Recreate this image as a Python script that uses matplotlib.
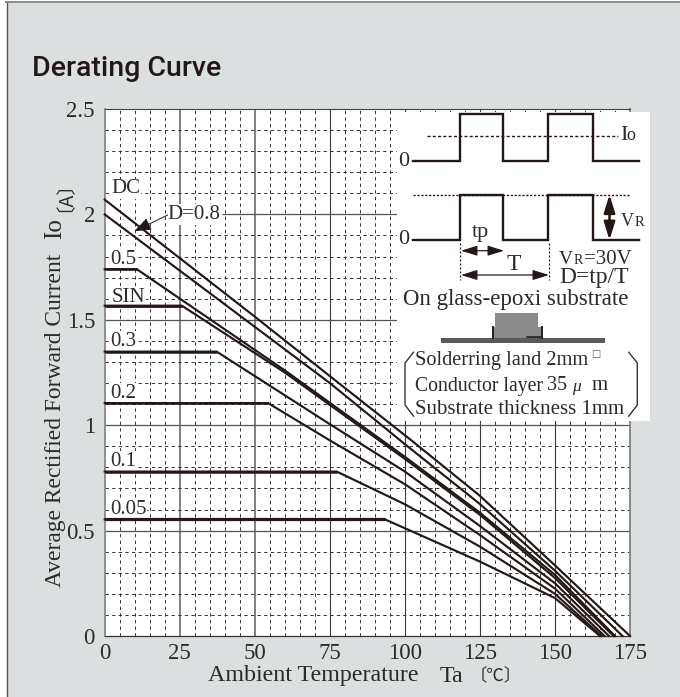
import matplotlib
matplotlib.use("Agg")
import matplotlib.pyplot as plt
from matplotlib.patches import Rectangle, FancyArrowPatch, PathPatch
from matplotlib.ticker import MultipleLocator
from matplotlib.path import Path

W, H = 680, 697
SERIF = ['Liberation Serif', 'DejaVu Serif']
CJK = ['Noto Sans CJK JP', 'DejaVu Sans']
BG = '#dcdfdf'
INK = '#231815'
TXT = '#2b2b2b'

# ---- chart data ----
ta_dc = [0, 50, 75, 102, 125, 150, 175]
io_dc = [2.07, 1.515, 1.233, 0.93, 0.665, 0.335, 0]
ta_08 = [0, 75, 100, 125, 150, 172.5]
io_08 = [2.0, 1.2, 0.91, 0.626, 0.31, 0]
ta_05 = [0, 10.7, 60, 100, 125, 150, 170]
io_05 = [1.74, 1.74, 1.26, 0.85, 0.585, 0.29, 0]
ta_sin = [0, 25.7, 60, 100, 125, 150, 169.5]
io_sin = [1.567, 1.567, 1.25, 0.84, 0.575, 0.275, 0]
ta_03 = [0, 37.3, 75, 100, 125, 150, 168]
io_03 = [1.349, 1.349, 1.005, 0.78, 0.522, 0.25, 0]
ta_02 = [0, 54.4, 75, 100, 125, 150, 166.5]
io_02 = [1.105, 1.105, 0.928, 0.72, 0.479, 0.225, 0]
ta_01 = [0, 77.3, 100, 125, 150, 165.5]
io_01 = [0.78, 0.78, 0.625, 0.424, 0.2, 0]
ta_005 = [0, 93.4, 125, 150, 165]
io_005 = [0.553, 0.553, 0.353, 0.18, 0]

curve_labels = ['DC', 'D=0.8', '0.5', 'SIN', '0.3', '0.2', '0.1', '0.05']
label_ta = [2.3, 21, 1.8, 2.2, 1.8, 1.8, 1.8, 1.8]
label_io = [2.121, 1.999, 1.784, 1.608, 1.399, 1.150, 0.829, 0.599]

x_ticks = [0, 25, 50, 75, 100, 125, 150, 175]
y_ticks = [0, 0.5, 1, 1.5, 2, 2.5]
y_tick_labels = ['0', '0.5', '1', '1.5', '2', '2.5']

fig = plt.figure(figsize=(W / 100, H / 100), dpi=100, facecolor='white')

# panel background with top and left rule
back = fig.add_axes([0, 0, 1, 1], zorder=0)
back.set_xlim(0, W); back.set_ylim(H, 0); back.axis('off')
back.add_patch(Rectangle((7, 2.5), W, H, fc=BG, ec='none'))
back.plot([7, 7], [2, H], color='#555555', lw=1.0)
back.plot([6, W], [2, 2], color='#8a8a8a', lw=1.4)
back.text(32, 68, 'Derating Curve', family=['Roboto', 'DejaVu Sans'], weight='medium',
          fontsize=20.5, color=INK, va='center', ha='left')

ax = fig.add_axes([104.7 / W, 1 - 636 / H, (630 - 104.7) / W, (636 - 109) / H], zorder=1)
ax.set_facecolor('white')
ax.set_xlim(0, 175); ax.set_ylim(0, 2.5)
ax.set_xticks(x_ticks)
ax.set_yticks(y_ticks)
ax.set_yticklabels(y_tick_labels)
ax.xaxis.set_minor_locator(MultipleLocator(5))
ax.yaxis.set_minor_locator(MultipleLocator(0.1))
ax.tick_params(which='both', length=0)
ax.tick_params(axis='x', pad=5)
ax.tick_params(axis='y', pad=7)
for tl in ax.get_xticklabels() + ax.get_yticklabels():
    tl.set_family(SERIF); tl.set_fontsize(16.5); tl.set_color(TXT)
ax.grid(False)
ax.grid(which='minor', color='#333333', lw=0.7, ls=(0, (3.4, 3.4)), zorder=1)
for sp, c, lw in [('left', '#808080', 1.2), ('right', '#808080', 1.3), ('top', '#444444', 0.8), ('bottom', '#333333', 0.9)]:
    ax.spines[sp].set_color(c); ax.spines[sp].set_linewidth(lw)

for xv in x_ticks[1:-1]:
    gray = xv in (25, 50)
    ax.axvline(xv, color='#808080' if gray else '#3a3a3a', lw=1.4 if gray else 0.8, zorder=1.2)
for yv in y_ticks[1:-1]:
    ax.hlines(yv, 39 if yv == 2 else 0, 175, color='#555555', lw=0.9, zorder=1.2)

curves = [(ta_dc, io_dc), (ta_08, io_08), (ta_05, io_05), (ta_sin, io_sin),
          (ta_03, io_03), (ta_02, io_02), (ta_01, io_01), (ta_005, io_005)]
widths = [1.55] * 8
flat_widths = [0, 0, 1.8, 2.0, 1.8, 1.8, 1.8, 2.3]
for (tx, iy), lw, fw in zip(curves, widths, flat_widths):
    ax.plot(tx, iy, color=INK, lw=lw, zorder=3, solid_joinstyle='miter', clip_on=False)
    if fw:
        ax.plot(tx[:2], iy[:2], color=INK, lw=fw, zorder=3.1, solid_capstyle='butt', clip_on=False)

for s, tx, iy in zip(curve_labels, label_ta, label_io):
    ax.text(tx, iy, s, family=SERIF, fontsize=15, color=TXT, va='center', ha='left',
            zorder=2, bbox=dict(fc='white', ec='none', pad=0.4))

ax.annotate('', xy=(9.8, 1.92), xytext=(21, 1.997),
            arrowprops=dict(arrowstyle='-|>,head_length=0.75,head_width=0.28', mutation_scale=14,
                            color=INK, lw=0.7, shrinkA=0, shrinkB=0), zorder=4)

# overlay in pixels: axis titles and the inset schematic
ov = fig.add_axes([0, 0, 1, 1], zorder=2)
ov.set_xlim(0, W); ov.set_ylim(H, 0); ov.axis('off'); ov.patch.set_alpha(0)

ov.text(208, 676, 'Ambient Temperature', family=SERIF, fontsize=17.3, color=TXT, va='center', ha='left')
ov.text(440, 676, 'Ta', family=SERIF, fontsize=17.3, color=TXT, va='center', ha='left')
ov.text(469.5, 676, '〔℃〕', family=CJK, fontsize=12.5, color=TXT, va='center', ha='left')
rot = dict(va='center', ha='left', rotation=90, rotation_mode='anchor', color=TXT)
ov.text(55, 587, 'Average Rectified Forward Current', family=SERIF, fontsize=16.9, **rot)
ov.text(55, 239, 'Io', family=SERIF, fontsize=18, **rot)
ov.text(55, 212, '〔A〕', family=CJK, fontsize=14, **rot)

ov.add_patch(Rectangle((397, 112), 253, 309, fc='white', ec='none', zorder=1))

wave_x = [413.3, 460, 460, 503.3, 503.3, 548.3, 548.3, 592.7, 592.7, 638.7]
wave_top = [160.7, 160.7, 114, 114, 160.7, 160.7, 114, 114, 160.7, 160.7]
wave_bot = [240, 240, 194.7, 194.7, 240, 240, 194.7, 194.7, 240, 240]
ov.plot(wave_x, wave_top, color=INK, lw=1.7, zorder=3, solid_joinstyle='miter')
ov.plot(wave_x, wave_bot, color=INK, lw=1.7, zorder=3, solid_joinstyle='miter')
ov.plot([427.3, 618], [136, 136], color=INK, lw=1.0, ls=(0, (2.2, 1.6)), zorder=2)
ov.plot([413.3, 630], [194.7, 194.7], color=INK, lw=1.0, ls=(0, (1.6, 1.2)), zorder=2)
for xv in (460, 549):
    ov.plot([xv, xv], [243, 280], color=INK, lw=0.9, ls=(0, (1.6, 1.6)), zorder=2)

def arrow(p, q, lw=0.9, scale=11):
    ov.add_patch(FancyArrowPatch(p, q, arrowstyle='<|-|>,head_length=0.9,head_width=0.28', mutation_scale=scale,
                                 color=INK, lw=lw, shrinkA=0, shrinkB=0, zorder=4))
arrow((461, 250.7), (504, 250.7))
arrow((461, 275), (549, 275))
arrow((609.5, 194.7), (609.5, 240), lw=1.8, scale=12)

def t(x, y, s, size=15, **kw):
    ov.text(x, y, s, family=SERIF, fontsize=size, color=TXT, va='center', ha='left', zorder=5, **kw)

t(398, 161, '0', 16)
t(398, 240, '0', 16)
t(620, 135, 'I', 16)
t(626, 136, 'o', 13)
t(620.5, 222, 'V', 13)
t(635, 223, 'R', 10.5)
t(472, 232, 'tp', 16)
t(507, 265, 'T', 17)
t(558.5, 259, 'V', 14)
t(574, 261, 'R', 10)
t(584, 259, '=30V', 15)
t(559, 278, 'D=tp/T', 17)
t(403, 300, 'On glass-epoxi substrate', 16.5)
t(415, 361, 'Solderring land 2mm', 14.7)
t(415, 386, 'Conductor layer', 14.2)
t(547.5, 386, '35', 14.5)
t(572, 387, 'μ', 12.5, style='italic')
t(592, 386, 'm', 15)
t(415, 410, 'Substrate thickness 1mm', 15)
ov.text(596, 354, '□', family=['DejaVu Sans'], fontsize=7, color='#555555', va='center', ha='center', zorder=5)

# substrate and package
ov.add_patch(Rectangle((441, 338), 164, 4.5, fc='#5a5a5a', ec='none', zorder=3))
ov.add_patch(Rectangle((495, 312.7), 43, 25.5, fc='#8c8c8c', ec='none', zorder=3))
ov.add_patch(Rectangle((493, 327), 49, 11, fc='#8c8c8c', ec='none', zorder=3))
ov.plot([493, 493], [326.7, 338], color='#222222', lw=1.4, zorder=4)
ov.plot([542, 542], [326.7, 338], color='#222222', lw=1.4, zorder=4)
ov.plot([527, 542], [337, 337], color='#222222', lw=1.2, zorder=4)

# brackets
def bracket(x0, x1):
    verts = [(x1, 351.7), (x0, 363), (x0, 405), (x1, 416.7)]
    codes = [Path.MOVETO, Path.LINETO, Path.LINETO, Path.LINETO]
    ov.add_patch(PathPatch(Path(verts, codes), fc='none', ec='#333333', lw=1.0, zorder=4, joinstyle='round'))
bracket(405, 414)
bracket(637.3, 628.3)

fig.savefig('out.png', dpi=100, facecolor='white')
